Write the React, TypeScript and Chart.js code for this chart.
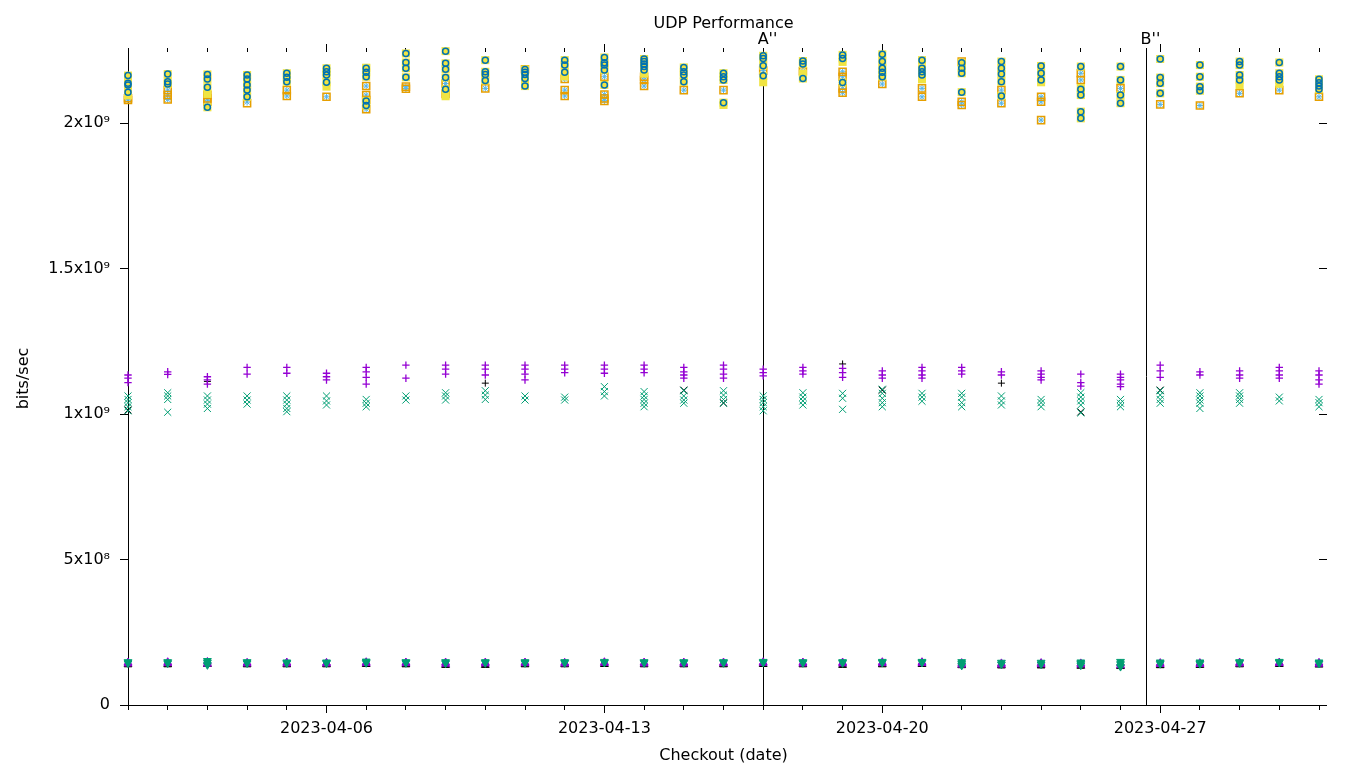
import React, { useEffect, useRef } from 'react';
import { Chart, registerables } from 'chart.js';
Chart.register(...registerables);

// x positions: day offsets from 2023-04-01
const days = [0, 1, 2, 3, 4, 5, 6, 7, 8, 9, 10, 11, 12, 13, 14, 15, 16, 17, 18, 19, 20, 21, 22, 23, 24, 25, 26, 27, 28, 29, 30];
const majorTickDays = [5, 12, 19, 26];
const majorTickLabels = ['2023-04-06', '2023-04-13', '2023-04-20', '2023-04-27'];
const yTickValues = [0, 5e8, 1e9, 1.5e9, 2e9];
const yTickLabels = ['0', '5x10⁸', '1x10⁹', '1.5x10⁹', '2x10⁹'];
const markerDays = [16, 25.65];
const markerLabels = ["A''", "B''"];
const yMax = 2.244e9;

// values in Gbit/s (1e9 bits/sec)
const UNIT = 1e9;

const blueCircle = [
  [2.163, 2.137, 2.131, 2.106], [2.168, 2.142, 2.134], [2.167, 2.151, 2.123, 2.054], [2.165, 2.151, 2.131, 2.113, 2.090],
  [2.171, 2.157, 2.142], [2.188, 2.176, 2.165, 2.140], [2.188, 2.174, 2.159, 2.076, 2.060], [2.239, 2.208, 2.188, 2.157],
  [2.247, 2.205, 2.185, 2.156, 2.116], [2.216, 2.176, 2.167, 2.146], [2.184, 2.174, 2.167, 2.153, 2.127], [2.216, 2.199, 2.174],
  [2.225, 2.207, 2.199, 2.182, 2.131], [2.220, 2.211, 2.203, 2.194, 2.182], [2.191, 2.176, 2.165, 2.142], [2.171, 2.159, 2.148, 2.070],
  [2.231, 2.222, 2.197, 2.162], [2.213, 2.203, 2.153], [2.234, 2.222, 2.139], [2.236, 2.211, 2.188, 2.174, 2.159],
  [2.216, 2.188, 2.176, 2.165], [2.207, 2.188, 2.171, 2.106], [2.211, 2.188, 2.168, 2.142, 2.093], [2.196, 2.171, 2.148],
  [2.194, 2.116, 2.096, 2.039, 2.016], [2.194, 2.148, 2.096, 2.068], [2.220, 2.156, 2.137, 2.102], [2.199, 2.159, 2.125, 2.111],
  [2.211, 2.199, 2.165, 2.148], [2.208, 2.171, 2.159, 2.148], [2.150, 2.138, 2.127, 2.116],
];

const yellowSquare = [
  [2.163, 2.137, 2.131, 2.106, 2.095], [2.168, 2.142, 2.134], [2.167, 2.151, 2.123, 2.054, 2.100], [2.165, 2.151, 2.131, 2.113, 2.090],
  [2.171, 2.157, 2.142], [2.188, 2.176, 2.165, 2.140, 2.125], [2.188, 2.190, 2.174, 2.159, 2.076, 2.060], [2.239, 2.208, 2.188, 2.157],
  [2.247, 2.205, 2.185, 2.156, 2.116, 2.092], [2.216, 2.176, 2.167, 2.146], [2.184, 2.174, 2.167, 2.153, 2.127], [2.216, 2.199, 2.174, 2.160],
  [2.225, 2.207, 2.199, 2.182, 2.131], [2.220, 2.211, 2.203, 2.194, 2.182, 2.170], [2.191, 2.176, 2.165, 2.142], [2.171, 2.159, 2.148, 2.070, 2.062],
  [2.231, 2.222, 2.197, 2.162, 2.140], [2.213, 2.203, 2.170, 2.153], [2.234, 2.222, 2.210, 2.139], [2.236, 2.211, 2.188, 2.174, 2.159],
  [2.216, 2.188, 2.176, 2.165, 2.150], [2.207, 2.188, 2.171, 2.106], [2.211, 2.188, 2.168, 2.142, 2.093], [2.196, 2.171, 2.148, 2.140],
  [2.194, 2.120, 2.105, 2.096, 2.039, 2.016], [2.194, 2.148, 2.096, 2.068], [2.220, 2.156, 2.137, 2.102], [2.199, 2.159, 2.125, 2.111],
  [2.211, 2.199, 2.165, 2.148, 2.130], [2.208, 2.171, 2.159, 2.148, 2.135], [2.150, 2.138, 2.127, 2.116],
];

const orangeSquare = [
  [2.085, 2.079], [2.113, 2.096, 2.081], [2.096, 2.084, 2.073], [2.068], [2.113, 2.093], [2.090], [2.127, 2.096, 2.079, 2.047],
  [2.125, 2.118], [2.136, 2.100], [2.119], [2.185], [2.151, 2.113, 2.093], [2.159, 2.098, 2.084, 2.076], [2.159, 2.148, 2.127],
  [2.113], [2.113], [2.180], [2.178], [2.176, 2.159, 2.119, 2.104], [2.134], [2.119, 2.090], [2.211, 2.073, 2.062],
  [2.113, 2.068], [2.090, 2.073, 2.010], [2.171, 2.148], [2.119], [2.064], [2.060], [2.102], [2.113], [2.090],
];

const lightBlueStar = [
  [2.085, 2.079], [2.113, 2.096, 2.081], [2.096, 2.084, 2.073], [2.072], [2.113, 2.093], [2.090], [2.127, 2.096, 2.079, 2.047],
  [2.125, 2.118], [2.136, 2.100], [2.119], [2.185], [2.151, 2.113, 2.093], [2.159, 2.098, 2.084, 2.076], [2.159, 2.148, 2.127],
  [2.113], [2.113], [2.180], [2.178], [2.176, 2.159, 2.119, 2.104], [2.134], [2.119, 2.090], [2.211, 2.073, 2.062],
  [2.113, 2.068], [2.090, 2.073, 2.010], [2.171, 2.148], [2.119], [2.064], [2.060], [2.102], [2.113], [2.090],
];

const purplePlus = [
  [1.134, 1.123, 1.108], [1.145, 1.136], [1.128, 1.117, 1.103], [1.160, 1.137], [1.160, 1.140], [1.140, 1.128, 1.117],
  [1.160, 1.145, 1.126, 1.103], [1.168, 1.123], [1.168, 1.154, 1.137], [1.168, 1.154, 1.134], [1.168, 1.154, 1.137, 1.117],
  [1.168, 1.154, 1.142], [1.168, 1.154, 1.140], [1.168, 1.154, 1.142], [1.160, 1.145, 1.134, 1.123], [1.168, 1.154, 1.137, 1.123],
  [1.154, 1.142, 1.131], [1.160, 1.148, 1.137], [1.157, 1.142, 1.126], [1.148, 1.134, 1.123], [1.160, 1.148, 1.134, 1.123],
  [1.160, 1.148, 1.137], [1.145, 1.134], [1.148, 1.137, 1.126, 1.117], [1.137, 1.108, 1.096], [1.137, 1.126, 1.117, 1.103, 1.094],
  [1.168, 1.148, 1.126], [1.145, 1.134], [1.148, 1.134, 1.123], [1.160, 1.148, 1.134, 1.123], [1.148, 1.134, 1.117, 1.103],
];

const greenCross = [
  [1.062, 1.050, 1.039, 1.025, 1.011], [1.073, 1.062, 1.050, 1.006], [1.062, 1.048, 1.034, 1.019], [1.062, 1.048, 1.034],
  [1.062, 1.048, 1.034, 1.019, 1.008], [1.062, 1.045, 1.031], [1.050, 1.037, 1.025], [1.062, 1.048], [1.073, 1.062, 1.048],
  [1.080, 1.065, 1.050], [1.062, 1.048], [1.058, 1.048], [1.094, 1.077, 1.062], [1.077, 1.062, 1.050, 1.037, 1.025],
  [1.080, 1.062, 1.048, 1.037], [1.080, 1.065, 1.050, 1.037], [1.062, 1.050, 1.039, 1.025, 1.011], [1.073, 1.058, 1.045, 1.031],
  [1.071, 1.054, 1.016], [1.085, 1.071, 1.054, 1.039, 1.025], [1.071, 1.058, 1.044], [1.071, 1.058, 1.039, 1.025],
  [1.062, 1.045, 1.031], [1.050, 1.039, 1.025], [1.073, 1.058, 1.045, 1.031, 1.004], [1.050, 1.037, 1.025],
  [1.080, 1.065, 1.050, 1.037], [1.073, 1.062, 1.048, 1.037, 1.019], [1.073, 1.062, 1.050, 1.037], [1.058, 1.045], [1.050, 1.039, 1.025],
];

const blackPlusDays = [2, 9, 18, 22];
const blackPlusValues = [1.112, 1.106, 1.172, 1.106];
const blackCrossDays = [0, 14, 15, 19, 24, 26];
const blackCrossValues = [1.014, 1.082, 1.038, 1.082, 1.007, 1.082];

const purpleTriangle = [
  [0.146, 0.142], [0.147, 0.143], [0.148, 0.141], [0.145, 0.142], [0.146, 0.142], [0.145, 0.142], [0.147, 0.143], [0.146, 0.143],
  [0.146, 0.141], [0.146, 0.142], [0.146, 0.143], [0.145, 0.142], [0.147, 0.144], [0.146, 0.142], [0.146, 0.142], [0.146, 0.143],
  [0.147, 0.144], [0.146, 0.142], [0.146, 0.142], [0.147, 0.143], [0.147, 0.143], [0.144, 0.138], [0.143, 0.138], [0.144, 0.139],
  [0.143, 0.138], [0.142, 0.136], [0.144, 0.140], [0.144, 0.140], [0.146, 0.142], [0.146, 0.143], [0.145, 0.141],
];
const greenTriangle = [
  [0.148, 0.144], [0.148, 0.144], [0.152, 0.146, 0.138], [0.148, 0.144], [0.147, 0.144], [0.147, 0.144], [0.150, 0.145], [0.148, 0.145],
  [0.148, 0.144], [0.148, 0.145], [0.148, 0.145], [0.148, 0.145], [0.149, 0.146], [0.148, 0.145], [0.148, 0.145], [0.148, 0.145],
  [0.149, 0.146], [0.148, 0.145], [0.148, 0.145], [0.149, 0.146], [0.149, 0.146], [0.148, 0.142, 0.136], [0.146, 0.140], [0.146, 0.140],
  [0.147, 0.142, 0.137], [0.149, 0.141, 0.132], [0.147, 0.142], [0.147, 0.142], [0.148, 0.145], [0.149, 0.146], [0.147, 0.143],
];
const blackTriangle = [
  [0.139], [0.139], [0.140], [0.139], [0.139], [0.139], [0.140], [0.139], [0.137], [0.137], [0.139], [0.139], [0.140], [0.139],
  [0.139], [0.139], [0.140], [0.139], [0.137], [0.139], [0.140], [0.136], [0.135], [0.135], [0.134], [0.133], [0.136], [0.137],
  [0.139], [0.140], [0.138],
];

type Pt = { x: number; y: number };
const perDate = (vals: number[][]): Pt[] => {
  const out: Pt[] = [];
  vals.forEach((list, i) => list.forEach((v) => out.push({ x: days[i], y: v * UNIT })));
  return out;
};
const paired = (ds: number[], vs: number[]): Pt[] => ds.map((d, i) => ({ x: d, y: vs[i] * UNIT }));

const FONT = 'DejaVu Sans';

const markerPlugin = {
  id: 'markers',
  beforeDatasetsDraw(chart: any) {
    const { ctx, chartArea, scales } = chart;
    ctx.save();
    ctx.strokeStyle = '#000';
    ctx.lineWidth = 1;
    const leftPx = Math.round(scales.x.getPixelForValue(days[0])) + 0.5;
    ctx.beginPath();
    ctx.moveTo(leftPx, chartArea.top - 4);
    ctx.lineTo(leftPx, chartArea.bottom);
    ctx.stroke();
    ctx.font = `16px "${FONT}"`;
    ctx.fillStyle = '#000';
    ctx.textAlign = 'center';
    ctx.textBaseline = 'middle';
    markerDays.forEach((d, i) => {
      const px = Math.round(scales.x.getPixelForValue(d)) + 0.5;
      ctx.beginPath();
      ctx.moveTo(px, chartArea.top - 4);
      ctx.lineTo(px, chartArea.bottom);
      ctx.stroke();
      ctx.fillText(markerLabels[i], px + 4, chartArea.top - 12);
    });
    ctx.restore();
  },
};

export default function App() {
  const ref = useRef<HTMLCanvasElement | null>(null);
  useEffect(() => {
    if (!ref.current) return;
    Chart.defaults.font.family = FONT;
    Chart.defaults.font.size = 16;
    Chart.defaults.color = '#000';
    const isMajor = (v: number) => majorTickDays.includes(v);
    const xCommon = {
      type: 'linear' as const,
      min: days[0],
      max: days[days.length - 1],
      afterBuildTicks: (s: any) => {
        s.ticks = days.map((d) => ({ value: d }));
      },
    };
    const yCommon = {
      type: 'linear' as const,
      min: 0,
      max: yMax,
      afterBuildTicks: (s: any) => {
        s.ticks = yTickValues.map((v) => ({ value: v }));
      },
    };
    const chart = new Chart(ref.current, {
      type: 'scatter',
      data: {
        datasets: [
          { label: 'lightblue', data: perDate(lightBlueStar), pointStyle: 'star', radius: 3.5, borderColor: '#56B4E9', backgroundColor: '#56B4E9', borderWidth: 1, order: 10 },
          { label: 'orange', data: perDate(orangeSquare), pointStyle: 'rect', radius: 5, borderColor: '#E69F00', backgroundColor: 'rgba(0,0,0,0)', borderWidth: 1.5, order: 9 },
          { label: 'yellow', data: perDate(yellowSquare), pointStyle: 'rect', radius: 5.7, borderColor: '#F0E442', backgroundColor: '#F0E442', borderWidth: 0, order: 8 },
          { label: 'blue', data: perDate(blueCircle), pointStyle: 'circle', radius: 3, borderColor: '#0072B2', backgroundColor: 'rgba(0,0,0,0)', borderWidth: 1.5, order: 7 },
          { label: 'blackplus', data: paired(blackPlusDays, blackPlusValues), pointStyle: 'cross', radius: 3.5, borderColor: '#000', borderWidth: 1, order: 12 },
          { label: 'blackcross', data: paired(blackCrossDays, blackCrossValues), pointStyle: 'crossRot', radius: 5, borderColor: '#000', borderWidth: 1, order: 11 },
          { label: 'purple', data: perDate(purplePlus), pointStyle: 'cross', radius: 3.7, borderColor: '#9400D3', borderWidth: 1.3, order: 6 },
          { label: 'green', data: perDate(greenCross), pointStyle: 'crossRot', radius: 5, borderColor: '#009E73', borderWidth: 1, order: 5 },
          { label: 'blacktri', data: perDate(blackTriangle), pointStyle: 'triangle', radius: 4.5, borderColor: '#000', backgroundColor: '#000', borderWidth: 1, order: 4 },
          { label: 'purpletri', data: perDate(purpleTriangle), pointStyle: 'triangle', radius: 4.5, borderColor: '#9400D3', backgroundColor: '#9400D3', borderWidth: 1, order: 3 },
          { label: 'greentri', data: perDate(greenTriangle), pointStyle: 'triangle', rotation: 180, radius: 4.5, borderColor: '#009E73', backgroundColor: '#009E73', borderWidth: 1, order: 2 },
        ].map((d) => ({ ...d, clip: false })) as any,
      },
      options: {
        responsive: false,
        animation: false,
        events: [],
        layout: { padding: 0 },
        plugins: {
          legend: { display: false },
          tooltip: { enabled: false },
          title: {
            display: true,
            text: 'UDP Performance',
            fullSize: false,
            color: '#000',
            font: { family: FONT, size: 16, weight: 'normal' },
            padding: { top: 14, bottom: 18.8 },
          },
        },
        scales: {
          x: {
            ...xCommon,
            position: 'bottom',
            afterFit: (s: any) => {
              s.height = 63;
            },
            border: { display: true, color: '#000', width: 1 },
            grid: {
              display: true,
              drawOnChartArea: false,
              drawTicks: true,
              tickLength: 8,
              tickColor: '#000',
              tickBorderDash: (c: any) => (isMajor(c.tick?.value) ? [] : [4, 100]),
            } as any,
            ticks: {
              autoSkip: false,
              maxRotation: 0,
              padding: 6,
              font: { family: FONT, size: 16 },
              callback: (v: any) => {
                const i = majorTickDays.indexOf(Number(v));
                return i >= 0 ? majorTickLabels[i] : '';
              },
            },
            title: { display: true, text: 'Checkout (date)', font: { family: FONT, size: 16 }, padding: { top: 0, bottom: 3 } },
          },
          xTop: {
            ...xCommon,
            position: 'top',
            afterFit: (s: any) => {
              s.height = 0;
            },
            border: { display: false },
            grid: {
              display: true,
              drawOnChartArea: false,
              drawTicks: true,
              tickLength: 8,
              tickColor: '#000',
              tickBorderDash: (c: any) => (isMajor(c.tick?.value) ? [] : [4, 4]),
              tickBorderDashOffset: (c: any) => (isMajor(c.tick?.value) ? 0 : 4),
            } as any,
            ticks: { display: false, autoSkip: false },
          },
          y: {
            ...yCommon,
            position: 'left',
            afterFit: (s: any) => {
              s.width = 128;
            },
            border: { display: true, color: '#000', width: 1 },
            grid: { display: true, drawOnChartArea: false, drawTicks: true, tickLength: 8, tickColor: '#000' },
            ticks: {
              padding: 10,
              font: { family: FONT, size: 16 },
              callback: (v: any) => {
                const i = yTickValues.indexOf(Number(v));
                return i >= 0 ? yTickLabels[i] : '';
              },
            },
            title: { display: true, text: 'bits/sec', font: { family: FONT, size: 16 }, padding: { top: 14, bottom: 0 } },
          },
          yRight: {
            ...yCommon,
            position: 'right',
            afterFit: (s: any) => {
              s.width = 41;
            },
            border: { display: false },
            grid: { display: true, drawOnChartArea: false, drawTicks: true, tickLength: 8, tickColor: '#000' },
            ticks: { display: false },
          },
        } as any,
      },
      plugins: [markerPlugin],
    });
    return () => chart.destroy();
  }, []);
  return (
    <div style={{ position: 'absolute', left: 0, top: 0, width: 1360, height: 768, background: '#fff' }}>
      <canvas ref={ref} width={1360} height={768} />
    </div>
  );
}
